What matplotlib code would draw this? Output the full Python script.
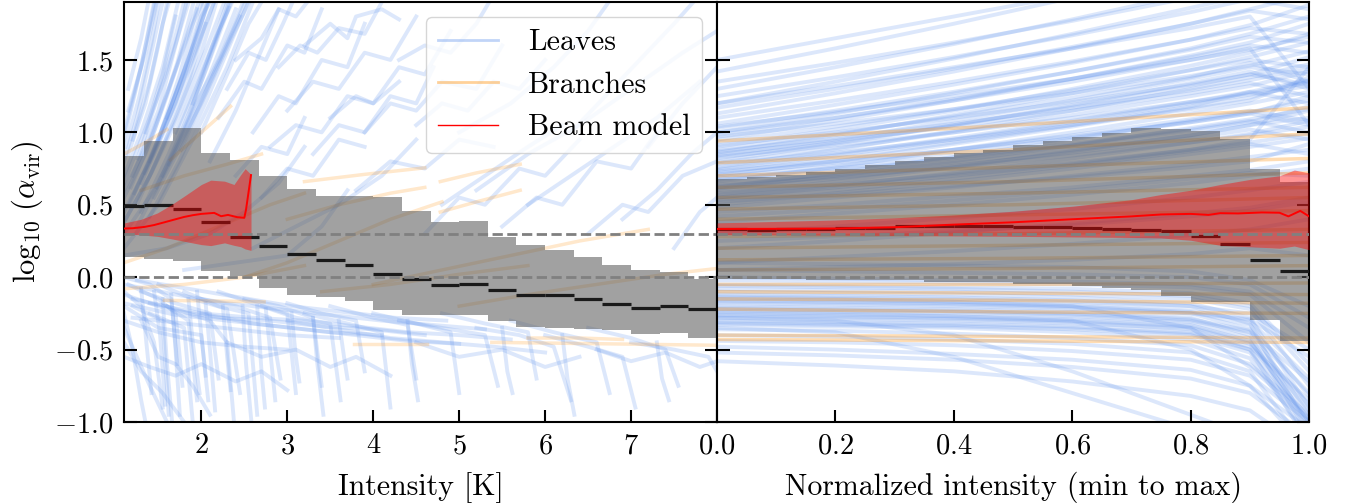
import matplotlib
matplotlib.use("Agg")
import matplotlib.pyplot as plt
from matplotlib.lines import Line2D

plt.rcParams.update({
    "font.family": "serif",
    "font.serif": ["cmr10"],
    "mathtext.fontset": "cm",
    "axes.formatter.use_mathtext": True,
    "axes.unicode_minus": True,
    "font.size": 20,
})

# ---- binned statistics, left panel (intensity in K) ----
edges_left = [1.0, 1.3333, 1.6667, 2.0, 2.3333, 2.6667, 3.0, 3.3333, 3.6667, 4.0, 4.3333,
              4.6667, 5.0, 5.3333, 5.6667, 6.0, 6.3333, 6.6667, 7.0, 7.3333, 7.6667, 8.0]
top_left = [0.84, 0.94, 1.03, 0.86, 0.81, 0.70, 0.61, 0.56, 0.56, 0.555, 0.46,
            0.38, 0.385, 0.28, 0.225, 0.19, 0.137, 0.087, 0.047, 0.038, -0.013]
med_left = [0.49, 0.50, 0.47, 0.38, 0.28, 0.215, 0.16, 0.12, 0.085, 0.025, -0.015,
            -0.054, -0.047, -0.089, -0.123, -0.123, -0.151, -0.186, -0.213, -0.20, -0.22]
bot_left = [0.14, 0.126, 0.109, 0.04, 0.006, -0.075, -0.126, -0.137, -0.167, -0.23, -0.26,
            -0.26, -0.264, -0.30, -0.345, -0.352, -0.359, -0.366, -0.393, -0.382, -0.417]

# ---- binned statistics, right panel (normalized intensity) ----
edges_right = [0.0, 0.05, 0.1, 0.15, 0.2, 0.25, 0.3, 0.35, 0.4, 0.45, 0.5,
               0.55, 0.6, 0.65, 0.7, 0.75, 0.8, 0.85, 0.9, 0.95, 1.0]
top_right = [0.675, 0.69, 0.709, 0.725, 0.75, 0.778, 0.799, 0.827, 0.855, 0.875,
             0.91, 0.938, 0.967, 0.998, 1.028, 1.021, 1.007, 0.952, 0.75, 0.66]
med_right = [0.336, 0.327, 0.336, 0.336, 0.343, 0.343, 0.352, 0.356, 0.356, 0.356,
             0.347, 0.347, 0.34, 0.333, 0.324, 0.32, 0.282, 0.23, 0.119, 0.043]
bot_right = [-0.013, -0.013, -0.013, -0.02, -0.02, -0.02, -0.02, -0.036, -0.036, -0.036,
             -0.045, -0.045, -0.063, -0.075, -0.086, -0.133, -0.174, -0.174, -0.294, -0.444]

# ---- beam model ----
beam_x_left = [1.105, 1.2, 1.337, 1.45, 1.57, 1.70, 1.80, 1.90, 2.00, 2.15, 2.23, 2.31, 2.42, 2.50, 2.52, 2.578]
beam_y_left = [0.336, 0.338, 0.347, 0.36, 0.379, 0.40, 0.416, 0.428, 0.437, 0.444, 0.421, 0.43, 0.414, 0.41, 0.467, 0.705]
band_x_left = [1.105, 1.3, 1.49, 1.65, 1.80, 2.0, 2.11, 2.27, 2.38, 2.46, 2.51, 2.578]
band_hi_left = [0.375, 0.40, 0.444, 0.50, 0.559, 0.64, 0.67, 0.663, 0.64, 0.709, 0.749, 0.709]
band_lo_left = [0.301, 0.292, 0.282, 0.265, 0.248, 0.225, 0.218, 0.237, 0.22, 0.21, 0.195, 0.185]

beam_x_right = [0.0, 0.1, 0.2, 0.3, 0.4, 0.5, 0.6, 0.7, 0.75, 0.8, 0.83, 0.85, 0.88, 0.92, 0.95, 0.965, 0.985, 1.0]
beam_y_right = [0.333, 0.334, 0.336, 0.345, 0.363, 0.379, 0.40, 0.42, 0.433, 0.437, 0.43, 0.442, 0.44, 0.447, 0.445, 0.42, 0.458, 0.42]
band_x_right = [0.0, 0.1, 0.2, 0.3, 0.4, 0.5, 0.6, 0.7, 0.75, 0.8, 0.85, 0.9, 0.95, 0.975, 1.0]
band_hi_right = [0.375, 0.385, 0.395, 0.41, 0.43, 0.455, 0.49, 0.535, 0.571, 0.60, 0.64, 0.675, 0.70, 0.74, 0.72]
band_lo_right = [0.294, 0.292, 0.29, 0.288, 0.285, 0.282, 0.278, 0.274, 0.271, 0.255, 0.22, 0.21, 0.20, 0.215, 0.19]

# ---- leaves, left panel: (intensity, log alpha) polylines ----
leaves_left_rise = [
    [(1.10, 0.55), (1.35, 0.85), (1.60, 1.25), (1.85, 1.70), (2.00, 1.95)],
    [(1.10, 0.70), (1.30, 1.00), (1.55, 1.45), (1.75, 1.95)],
    [(1.12, 0.40), (1.40, 0.70), (1.70, 1.10), (2.00, 1.55), (2.20, 1.95)],
    [(1.15, 0.85), (1.35, 1.20), (1.50, 1.60), (1.62, 1.95)],
    [(1.10, 0.30), (1.45, 0.60), (1.80, 1.00), (2.10, 1.40), (2.40, 1.85)],
    [(1.20, 0.95), (1.40, 1.35), (1.55, 1.75), (1.65, 1.95)],
    [(1.25, 0.50), (1.55, 0.90), (1.85, 1.35), (2.05, 1.75)],
    [(1.10, 1.00), (1.30, 1.45), (1.45, 1.90)],
    [(1.30, 0.65), (1.60, 1.05), (1.90, 1.50), (2.15, 1.90)],
    [(1.15, 1.15), (1.35, 1.55), (1.50, 1.95)],
    [(1.40, 0.80), (1.70, 1.20), (1.95, 1.65), (2.10, 1.95)],
    [(1.10, 0.20), (1.50, 0.50), (1.90, 0.95), (2.30, 1.45), (2.60, 1.90)],
    [(1.50, 0.95), (1.75, 1.40), (1.95, 1.85)],
    [(1.20, 0.70), (1.50, 1.15), (1.70, 1.60), (1.85, 1.95)],
    [(1.60, 1.10), (1.85, 1.50), (2.00, 1.80), (2.15, 1.95)],
    [(1.10, 0.60), (1.40, 0.95), (1.65, 1.35), (1.90, 1.75), (2.05, 1.95)],
    [(1.35, 1.00), (1.55, 1.40), (1.70, 1.80)],
    [(1.70, 1.00), (1.95, 1.35), (2.20, 1.70), (2.40, 1.95)],
    [(1.10, 0.80), (1.25, 1.10), (1.40, 1.50), (1.55, 1.90)],
    [(1.25, 0.35), (1.60, 0.75), (2.00, 1.20), (2.35, 1.65), (2.60, 1.95)],
    [(1.45, 0.55), (1.80, 0.95), (2.10, 1.35), (2.45, 1.80)],
    [(1.90, 1.20), (2.10, 1.55), (2.30, 1.90)],
    [(1.15, 1.30), (1.30, 1.65), (1.40, 1.95)],
    [(1.55, 0.70), (1.85, 1.10), (2.15, 1.60), (2.35, 1.95)],
    [(2.00, 1.00), (2.30, 1.40), (2.55, 1.75), (2.75, 1.95)],
    [(1.12, 0.90), (1.28, 1.25), (1.42, 1.62), (1.52, 1.95)],
    [(1.30, 0.45), (1.62, 0.85), (1.92, 1.28), (2.22, 1.72), (2.38, 1.95)],
    [(1.18, 0.62), (1.46, 1.02), (1.72, 1.48), (1.92, 1.92)],
    [(1.62, 0.78), (1.92, 1.18), (2.22, 1.52), (2.50, 1.92)],
    [(1.10, 0.45), (1.38, 0.78), (1.66, 1.20), (1.94, 1.66), (2.12, 1.95)],
    [(1.10, 0.95), (1.22, 1.25), (1.36, 1.62), (1.48, 1.95)],
    [(1.22, 0.58), (1.52, 0.98), (1.80, 1.42), (2.02, 1.88)],
    [(1.34, 0.72), (1.64, 1.12), (1.94, 1.58), (2.18, 1.95)],
    [(1.10, 0.38), (1.42, 0.72), (1.74, 1.12), (2.06, 1.58), (2.30, 1.95)],
    [(1.48, 0.62), (1.78, 1.02), (2.06, 1.44), (2.32, 1.86)],
    [(1.26, 0.82), (1.48, 1.22), (1.68, 1.62), (1.82, 1.95)],
    [(1.76, 0.88), (2.04, 1.26), (2.30, 1.62), (2.55, 1.95)],
    [(1.10, 0.65), (1.32, 0.98), (1.58, 1.38), (1.80, 1.80), (1.88, 1.95)],
    [(1.40, 0.42), (1.74, 0.80), (2.06, 1.22), (2.40, 1.70), (2.58, 1.95)],
    [(1.16, 0.50), (1.44, 0.86), (1.72, 1.30), (1.98, 1.72), (2.10, 1.95)],
    [(2.10, 0.80), (2.40, 1.15), (2.65, 1.50), (2.90, 1.85)],
    [(1.10, 0.15), (1.60, 0.20), (2.10, 0.30), (2.50, 0.45), (2.90, 0.65), (3.20, 0.90)],
    [(2.60, 0.20), (3.10, 0.35), (3.60, 0.50), (4.10, 0.70), (4.50, 0.95)],
    [(1.80, 0.05), (2.40, 0.10), (3.00, 0.15), (3.40, 0.35), (3.70, 0.60)],
    [(2.70, 0.55), (3.00, 0.75), (3.30, 0.70), (3.60, 0.95), (3.90, 0.90)],
    [(2.40, 0.70), (2.70, 0.90), (3.00, 0.85), (3.20, 1.10)],
]
leaves_left_upper = [
    [(2.2, 1.10), (2.5, 1.35), (2.7, 1.30), (3.0, 1.60), (3.2, 1.55), (3.4, 1.85)],
    [(2.6, 1.00), (2.9, 1.25), (3.1, 1.20), (3.4, 1.50), (3.7, 1.45), (3.9, 1.75)],
    [(3.0, 1.15), (3.3, 1.35), (3.6, 1.30), (3.9, 1.55), (4.2, 1.50), (4.5, 1.80)],
    [(2.4, 1.50), (2.7, 1.65), (2.9, 1.85), (3.1, 1.80), (3.3, 1.95)],
    [(3.5, 1.10), (3.8, 1.25), (4.0, 1.20), (4.3, 1.45), (4.6, 1.40), (4.9, 1.70)],
    [(3.9, 1.00), (4.2, 1.20), (4.5, 1.15), (4.8, 1.35), (5.2, 1.30), (5.5, 1.60)],
    [(3.2, 1.60), (3.5, 1.75), (3.7, 1.65), (3.8, 1.80), (4.1, 1.85), (4.3, 1.78)],
    [(4.5, 1.05), (4.8, 1.20), (5.1, 1.15), (5.4, 1.35), (5.7, 1.30), (6.0, 1.50)],
    [(2.8, 0.90), (3.1, 1.05), (3.4, 1.00), (3.7, 1.25), (4.0, 1.20), (4.3, 1.35)],
    [(4.3, 1.50), (4.6, 1.60), (4.9, 1.55), (5.2, 1.75), (5.4, 1.95)],
    [(2.3, 1.30), (2.55, 1.55), (2.75, 1.50), (2.95, 1.75), (3.1, 1.95)],
    [(2.9, 1.45), (3.15, 1.60), (3.35, 1.55), (3.6, 1.72), (3.9, 1.68), (4.1, 1.90)],
    [(3.3, 0.85), (3.6, 1.05), (3.9, 1.00), (4.2, 1.25), (4.5, 1.20), (4.7, 1.45)],
    [(5.2, 0.60), (5.8, 0.85), (6.4, 1.05), (7.0, 1.30), (7.6, 1.55), (8.0, 1.70)],
    [(5.8, 0.50), (6.3, 0.70), (6.8, 0.90), (7.3, 1.10), (7.8, 1.35)],
    [(6.3, 1.00), (6.7, 1.25), (7.1, 1.50), (7.5, 1.75), (7.8, 1.95)],
    [(6.9, 0.40), (7.3, 0.60), (7.7, 0.85), (8.0, 1.00)],
    [(5.0, 1.00), (5.6, 1.20), (6.1, 1.45), (6.5, 1.70), (6.8, 1.95)],
    [(7.2, 0.90), (7.6, 1.20), (8.0, 1.45)],
    [(4.8, 0.50), (5.3, 0.70), (5.8, 0.90), (6.2, 1.05)],
    [(7.5, 0.20), (7.8, 0.45), (8.0, 0.55)],
    [(4.6, 0.30), (5.0, 0.55), (5.3, 0.50), (5.7, 0.75), (6.0, 0.70), (6.4, 0.95)],
    [(5.5, 0.35), (5.9, 0.55), (6.2, 0.50), (6.6, 0.80), (7.0, 0.75), (7.3, 1.00)],
    [(6.5, 0.30), (6.9, 0.50), (7.2, 0.45), (7.6, 0.70), (8.0, 0.80)],
    [(3.8, 0.60), (4.2, 0.80), (4.6, 0.75), (5.0, 0.95), (5.4, 0.90)],
]
leaves_left_drop = [
    [(1.10, -0.10), (1.30, -0.20), (1.45, -0.45), (1.55, -0.90)],
    [(1.10, -0.25), (1.20, -0.50), (1.30, -0.85), (1.35, -1.00)],
    [(1.15, -0.05), (1.50, -0.15), (1.70, -0.25), (1.78, -0.75)],
    [(1.20, -0.15), (1.60, -0.20), (1.85, -0.30), (1.95, -0.85)],
    [(1.10, 0.00), (1.40, -0.05), (1.65, -0.15), (1.72, -0.60)],
    [(1.30, -0.10), (1.70, -0.18), (2.10, -0.25), (2.20, -0.70)],
    [(1.10, -0.35), (1.25, -0.55), (1.40, -0.75), (1.60, -1.00)],
    [(1.50, -0.05), (1.90, -0.15), (2.30, -0.22), (2.45, -0.80)],
    [(1.20, -0.20), (1.55, -0.30), (1.62, -0.95)],
    [(1.80, -0.10), (2.20, -0.20), (2.55, -0.25), (2.65, -0.95)],
    [(1.40, -0.25), (1.80, -0.35), (1.90, -1.00)],
    [(2.00, -0.15), (2.40, -0.20), (2.80, -0.28), (2.92, -0.70)],
    [(1.10, -0.20), (1.50, -0.35), (2.00, -0.40), (2.08, -0.85)],
    [(2.20, -0.10), (2.60, -0.18), (3.00, -0.25), (3.10, -0.80)],
    [(1.60, -0.20), (2.10, -0.30), (2.30, -0.45), (2.38, -1.00)],
    [(2.50, -0.15), (2.90, -0.20), (3.30, -0.28), (3.40, -0.75)],
    [(1.10, -0.45), (1.30, -0.65), (1.55, -0.80), (1.80, -1.00)],
    [(2.70, -0.20), (3.10, -0.28), (3.50, -0.32), (3.62, -0.85)],
    [(3.00, -0.18), (3.40, -0.25), (3.80, -0.30), (3.90, -0.65)],
    [(3.20, -0.25), (3.70, -0.32), (4.10, -0.38), (4.20, -0.90)],
    [(3.50, -0.20), (4.00, -0.28), (4.40, -0.33), (4.50, -0.70)],
    [(1.30, -0.30), (1.50, -0.55), (1.70, -0.60), (1.90, -0.75), (2.10, -0.95)],
    [(4.00, -0.25), (4.50, -0.32), (4.90, -0.38), (5.00, -0.80)],
    [(4.30, -0.30), (4.80, -0.35), (5.30, -0.40), (5.45, -0.75)],
    [(4.80, -0.25), (5.30, -0.32), (5.80, -0.38), (5.90, -0.70)],
    [(5.20, -0.35), (5.70, -0.40), (6.10, -0.48), (6.30, -0.85)],
    [(5.60, -0.30), (6.10, -0.38), (6.60, -0.45), (6.75, -0.80)],
    [(6.00, -0.40), (6.50, -0.48), (6.90, -0.55), (7.05, -0.90)],
    [(6.50, -0.35), (7.00, -0.42), (7.40, -0.50), (7.55, -0.75)],
    [(7.00, -0.45), (7.50, -0.50), (7.90, -0.55), (8.00, -0.65)],
    [(1.10, -0.55), (1.40, -0.62), (1.70, -0.68), (2.00, -0.60), (2.40, -0.72), (2.70, -0.65), (3.00, -0.78)],
    [(2.30, -0.45), (2.70, -0.55), (3.10, -0.50), (3.50, -0.62), (3.80, -0.55), (4.20, -0.68)],
    [(4.50, -0.45), (5.00, -0.55), (5.50, -0.50), (6.00, -0.62), (6.40, -0.55)],
    [(6.60, -0.50), (7.00, -0.58), (7.40, -0.52), (7.80, -0.62), (8.00, -0.58)],
    [(1.10, -0.12), (1.60, -0.22), (2.20, -0.28), (2.80, -0.30), (3.40, -0.34), (4.00, -0.36), (4.60, -0.40)],
    [(1.40, -0.18), (2.00, -0.25), (2.60, -0.32), (3.20, -0.36), (3.80, -0.40), (4.40, -0.44), (5.00, -0.46)],
    [(1.20, -0.28), (1.80, -0.32), (2.40, -0.36), (3.00, -0.40), (3.60, -0.42)],
    [(1.10, -0.05), (1.70, -0.12), (2.30, -0.18), (2.90, -0.22), (3.50, -0.26), (4.10, -0.30), (4.70, -0.33), (5.30, -0.36)],
    [(1.10, -0.18), (1.70, -0.26), (2.30, -0.30), (2.90, -0.34), (3.50, -0.38), (4.10, -0.40)],
    [(1.25, -0.02), (1.85, -0.08), (2.45, -0.14), (3.05, -0.20), (3.65, -0.24), (4.25, -0.28), (4.85, -0.30)],
    [(2.00, -0.25), (2.60, -0.28), (3.20, -0.30), (3.80, -0.34), (4.40, -0.38), (5.00, -0.40), (5.60, -0.43)],
    [(1.10, -0.30), (1.50, -0.38), (2.00, -0.45), (2.50, -0.48), (3.00, -0.50)],
    [(3.00, -0.30), (3.60, -0.36), (4.20, -0.42), (4.80, -0.45), (5.40, -0.48), (6.00, -0.52)],
    [(1.45, -0.10), (1.52, -0.40), (1.58, -0.88)],
    [(1.65, -0.12), (1.70, -0.50), (1.75, -0.95)],
    [(1.85, -0.15), (1.90, -0.45), (1.98, -0.80)],
    [(2.05, -0.18), (2.10, -0.50), (2.16, -0.92)],
    [(2.25, -0.20), (2.30, -0.55), (2.34, -0.78)],
    [(2.48, -0.20), (2.52, -0.60), (2.58, -0.98)],
    [(2.75, -0.22), (2.80, -0.50), (2.86, -0.85)],
    [(3.05, -0.25), (3.10, -0.55), (3.14, -0.72)],
    [(3.30, -0.28), (3.35, -0.60), (3.42, -0.95)],
    [(3.60, -0.30), (3.66, -0.55), (3.70, -0.70)],
    [(1.30, -0.08), (1.36, -0.45), (1.42, -0.80)],
    [(1.55, -0.15), (1.60, -0.60), (1.66, -1.00)],
    [(1.95, -0.10), (2.00, -0.40), (2.05, -0.68)],
    [(2.65, -0.20), (2.70, -0.65), (2.74, -0.90)],
    [(4.40, -0.30), (4.45, -0.60), (4.52, -0.85)],
    [(5.50, -0.35), (5.56, -0.65), (5.62, -0.80)],
    [(6.20, -0.40), (6.26, -0.70), (6.34, -0.95)],
    [(7.30, -0.45), (7.36, -0.70), (7.44, -0.85)],
]

# ---- branches, left panel ----
branches_left = [
    [(1.64, 0.81), (2.00, 1.00), (2.34, 1.18)],
    [(1.10, 0.85), (1.35, 0.93), (1.60, 1.02)],
    [(3.20, 0.66), (3.90, 0.71), (4.60, 0.755)],
    [(4.78, 0.66), (5.20, 0.72), (5.71, 0.78)],
    [(4.78, 0.45), (5.20, 0.52), (5.71, 0.60)],
    [(1.10, 0.10), (1.60, 0.20), (2.20, 0.35), (2.80, 0.50), (3.20, 0.58)],
    [(1.30, 0.60), (1.80, 0.70), (2.30, 0.78), (2.70, 0.85)],
    [(2.50, 0.00), (3.00, 0.10), (3.60, 0.25), (4.20, 0.40), (4.80, 0.52)],
    [(3.00, 0.40), (3.60, 0.50), (4.20, 0.58), (4.60, 0.62)],
    [(4.00, -0.05), (4.80, 0.05), (5.60, 0.15), (6.40, 0.25), (7.20, 0.33)],
    [(5.00, -0.20), (5.80, -0.12), (6.60, -0.05), (7.40, 0.02), (8.00, 0.06)],
    [(1.10, -0.08), (1.80, -0.05), (2.50, 0.00), (3.20, 0.08)],
    [(3.40, -0.10), (4.20, -0.05), (5.00, 0.02), (5.80, 0.08)],
    [(1.57, -0.16), (2.20, -0.165), (2.73, -0.17)],
    [(3.78, -0.46), (4.20, -0.46), (4.62, -0.46)],
    [(5.38, -0.45), (6.70, -0.46), (8.00, -0.47)],
    [(5.80, -0.42), (6.40, -0.42), (6.90, -0.43)],
]

# ---- leaves, right panel: values at fixed normalized intensities ----
right_x = [0.0, 0.2, 0.4, 0.6, 0.8, 0.9, 1.0]
leaves_right_upper = [
    [0.45, 0.50, 0.56, 0.62, 0.70, 0.74, 0.80],
    [0.48, 0.55, 0.62, 0.70, 0.78, 0.83, 0.88],
    [0.50, 0.58, 0.66, 0.75, 0.85, 0.90, 0.96],
    [0.52, 0.57, 0.63, 0.69, 0.76, 0.80, 0.92],
    [0.53, 0.60, 0.68, 0.77, 0.87, 0.92, 0.85],
    [0.55, 0.63, 0.72, 0.82, 0.93, 0.98, 1.04],
    [0.57, 0.66, 0.76, 0.87, 0.98, 1.05, 1.10],
    [0.58, 0.64, 0.71, 0.79, 0.88, 0.93, 0.99],
    [0.60, 0.68, 0.77, 0.86, 0.96, 1.02, 0.95],
    [0.61, 0.70, 0.80, 0.91, 1.03, 1.09, 1.16],
    [0.62, 0.72, 0.83, 0.95, 1.08, 1.14, 1.22],
    [0.63, 0.69, 0.76, 0.84, 0.93, 0.99, 1.08],
    [0.64, 0.71, 0.79, 0.88, 0.98, 1.05, 1.15],
    [0.66, 0.76, 0.88, 1.00, 1.13, 1.20, 1.28],
    [0.67, 0.74, 0.82, 0.91, 1.01, 1.07, 1.18],
    [0.68, 0.75, 0.83, 0.92, 1.02, 1.08, 1.00],
    [0.69, 0.77, 0.86, 0.96, 1.07, 1.13, 1.05],
    [0.70, 0.80, 0.92, 1.04, 1.17, 1.24, 1.35],
    [0.71, 0.79, 0.88, 0.98, 1.09, 1.15, 1.08],
    [0.72, 0.82, 0.93, 1.05, 1.18, 1.28, 1.20],
    [0.73, 0.80, 0.88, 0.97, 1.07, 1.13, 1.25],
    [0.74, 0.84, 0.95, 1.07, 1.20, 1.26, 1.32],
    [0.75, 0.85, 0.96, 1.08, 1.21, 1.28, 1.36],
    [0.76, 0.88, 1.01, 1.15, 1.30, 1.38, 1.47],
    [0.78, 0.86, 0.95, 1.05, 1.16, 1.22, 1.38],
    [0.79, 0.89, 1.00, 1.12, 1.25, 1.32, 1.42],
    [0.80, 0.92, 1.05, 1.19, 1.34, 1.42, 1.30],
    [0.82, 0.93, 1.05, 1.18, 1.32, 1.40, 1.52],
    [0.83, 0.91, 1.00, 1.10, 1.21, 1.27, 1.35],
    [0.84, 0.95, 1.08, 1.22, 1.37, 1.45, 1.40],
    [0.85, 0.94, 1.04, 1.15, 1.27, 1.34, 1.25],
    [0.86, 0.98, 1.12, 1.27, 1.43, 1.52, 1.62],
    [0.87, 0.96, 1.06, 1.17, 1.29, 1.36, 1.44],
    [0.88, 0.99, 1.11, 1.24, 1.38, 1.48, 1.35],
    [0.90, 1.02, 1.15, 1.30, 1.46, 1.55, 1.68],
    [0.91, 1.00, 1.10, 1.21, 1.33, 1.40, 1.33],
    [0.93, 1.04, 1.16, 1.29, 1.43, 1.50, 1.45],
    [0.95, 1.08, 1.22, 1.37, 1.53, 1.62, 1.75],
    [0.97, 1.06, 1.16, 1.27, 1.39, 1.46, 1.56],
    [0.98, 1.10, 1.23, 1.37, 1.52, 1.60, 1.55],
    [1.00, 1.13, 1.27, 1.42, 1.58, 1.68, 1.80],
    [1.03, 1.15, 1.28, 1.42, 1.57, 1.66, 1.62],
    [1.04, 1.14, 1.25, 1.37, 1.50, 1.57, 1.66],
    [1.06, 1.19, 1.33, 1.48, 1.64, 1.74, 1.88],
    [1.10, 1.22, 1.35, 1.49, 1.64, 1.72, 1.68],
    [1.13, 1.27, 1.42, 1.58, 1.75, 1.85, 1.95],
    [1.17, 1.30, 1.44, 1.59, 1.75, 1.84, 1.78],
    [1.20, 1.35, 1.51, 1.68, 1.86, 1.95, 2.00],
    [1.25, 1.38, 1.52, 1.67, 1.83, 1.92, 1.85],
    [1.30, 1.45, 1.61, 1.78, 1.96, 2.00, 2.00],
    [1.35, 1.48, 1.62, 1.77, 1.93, 2.00, 1.90],
    [1.42, 1.58, 1.75, 1.93, 2.05, 2.05, 2.05],
    [1.50, 1.65, 1.80, 1.95, 2.05, 2.05, 2.05],
    [1.20, 1.32, 1.45, 1.58, 1.72, 1.80, 1.30],
    [1.00, 1.10, 1.22, 1.35, 1.50, 1.58, 1.05],
    [0.55, 0.62, 0.70, 0.78, 0.88, 0.95, 1.45],
    [0.10, 0.14, 0.18, 0.23, 0.29, 0.33, 0.40],
    [0.20, 0.25, 0.31, 0.37, 0.44, 0.48, 0.55],
    [0.30, 0.35, 0.41, 0.47, 0.55, 0.60, 0.66],
    [0.38, 0.44, 0.50, 0.57, 0.65, 0.70, 0.75],
    [0.42, 0.47, 0.53, 0.60, 0.68, 0.72, 0.70],
    [0.25, 0.28, 0.32, 0.36, 0.42, 0.46, 0.52],
    [0.05, 0.07, 0.09, 0.12, 0.16, 0.20, 0.15],
]
leaves_right_lower = [
    [-0.02, -0.03, -0.04, -0.05, -0.07, -0.12, -0.45],
    [-0.05, -0.06, -0.07, -0.08, -0.11, -0.18, -0.60],
    [-0.06, -0.07, -0.08, -0.10, -0.13, -0.20, -0.65],
    [-0.08, -0.09, -0.10, -0.12, -0.15, -0.22, -0.75],
    [-0.10, -0.11, -0.12, -0.14, -0.18, -0.28, -0.90],
    [-0.12, -0.13, -0.14, -0.16, -0.20, -0.32, -1.05],
    [-0.15, -0.16, -0.17, -0.19, -0.23, -0.30, -0.70],
    [-0.16, -0.17, -0.18, -0.20, -0.24, -0.33, -0.82],
    [-0.17, -0.18, -0.19, -0.21, -0.25, -0.36, -0.95],
    [-0.20, -0.21, -0.22, -0.24, -0.28, -0.40, -1.10],
    [-0.21, -0.22, -0.23, -0.25, -0.29, -0.37, -0.72],
    [-0.22, -0.23, -0.24, -0.26, -0.30, -0.38, -0.80],
    [-0.25, -0.26, -0.27, -0.29, -0.33, -0.44, -1.00],
    [-0.26, -0.27, -0.28, -0.30, -0.34, -0.45, -0.92],
    [-0.27, -0.28, -0.29, -0.31, -0.36, -0.50, -1.15],
    [-0.30, -0.31, -0.32, -0.34, -0.38, -0.48, -0.85],
    [-0.31, -0.32, -0.33, -0.35, -0.39, -0.50, -1.00],
    [-0.33, -0.34, -0.35, -0.38, -0.43, -0.56, -1.10],
    [-0.36, -0.37, -0.39, -0.42, -0.47, -0.60, -0.95],
    [-0.40, -0.41, -0.43, -0.46, -0.52, -0.65, -1.20],
    [-0.44, -0.45, -0.47, -0.51, -0.57, -0.68, -1.00],
    [-0.48, -0.50, -0.53, -0.57, -0.64, -0.75, -1.20],
    [-0.52, -0.54, -0.57, -0.62, -0.70, -0.80, -1.10],
    [-0.58, -0.61, -0.65, -0.72, -0.82, -0.92, -1.20],
    [-0.18, -0.19, -0.20, -0.22, -0.25, -0.29, -0.55],
    [-0.13, -0.14, -0.15, -0.17, -0.20, -0.25, -0.50],
    [-0.23, -0.24, -0.25, -0.27, -0.31, -0.42, -0.88],
    [-0.28, -0.29, -0.30, -0.32, -0.35, -0.46, -0.98],
    [-0.32, -0.33, -0.34, -0.36, -0.40, -0.52, -1.05],
    [-0.28, -0.30, -0.40, -0.65, -0.95, -1.10, -1.20],
    [-0.35, -0.38, -0.55, -0.80, -1.05, -1.10, -1.20],
    [-0.24, -0.25, -0.27, -0.30, -0.50, -0.75, -1.05],
    [-0.14, -0.15, -0.17, -0.20, -0.35, -0.62, -0.98],
    [0.00, -0.01, -0.02, -0.03, -0.05, -0.10, -0.35],
    [0.05, 0.04, 0.03, 0.02, 0.00, -0.05, -0.28],
    [0.10, 0.09, 0.08, 0.07, 0.04, -0.02, -0.20],
]

# ---- branches, right panel ----
branch_x_right = [0.0, 0.5, 1.0]
branches_right = [
    [0.94, 1.05, 1.17], [0.79, 0.88, 0.99], [0.70, 0.76, 0.82], [0.62, 0.66, 0.72],
    [0.55, 0.58, 0.62], [0.47, 0.50, 0.55], [0.40, 0.43, 0.46], [0.28, 0.30, 0.33],
    [0.20, 0.22, 0.24], [0.12, 0.13, 0.15], [0.05, 0.06, 0.08], [-0.05, -0.05, -0.04],
    [-0.10, -0.11, -0.12], [-0.15, -0.16, -0.18], [-0.22, -0.24, -0.25],
    [-0.40, -0.41, -0.42], [-0.43, -0.44, -0.45],
]

leaf_color = "cornflowerblue"
branch_color = "darkorange"

fig = plt.figure(figsize=(13.58, 5.03), dpi=100)
ax1 = fig.add_axes([0.0913, 0.161, 0.4367, 0.835])
ax2 = fig.add_axes([0.528, 0.161, 0.436, 0.835])

# leaves and branches
for line in leaves_left_rise + leaves_left_upper + leaves_left_drop:
    xs = [p[0] for p in line]
    ys = [p[1] for p in line]
    ax1.plot(xs, ys, color=leaf_color, alpha=0.22, lw=2.8, zorder=1)
for line in branches_left:
    xs = [p[0] for p in line]
    ys = [p[1] for p in line]
    ax1.plot(xs, ys, color=branch_color, alpha=0.2, lw=2.5, zorder=1.5)

for ys in leaves_right_upper + leaves_right_lower:
    ax2.plot(right_x, ys, color=leaf_color, alpha=0.22, lw=2.8, zorder=1)
for ys in branches_right:
    ax2.plot(branch_x_right, ys, color=branch_color, alpha=0.3, lw=2.5, zorder=1.5)

# binned spread boxes and medians
for ax, edges, top, med, bot in [
    (ax1, edges_left, top_left, med_left, bot_left),
    (ax2, edges_right, top_right, med_right, bot_right),
]:
    lo = edges[:-1]
    widths = [b - a for a, b in zip(edges[:-1], edges[1:])]
    heights = [t - b for t, b in zip(top, bot)]
    ax.bar(lo, heights, width=widths, bottom=bot, align="edge", color="#555555",
           alpha=0.55, linewidth=0, zorder=2)
    ax.hlines(med, lo, edges[1:], color="#1a1a1a", lw=2.3, zorder=3)

# beam model
ax1.fill_between(band_x_left, band_lo_left, band_hi_left, color="red", alpha=0.42,
                 linewidth=0, zorder=4)
ax1.plot(beam_x_left, beam_y_left, color="red", lw=1.4, zorder=5)
ax2.fill_between(band_x_right, band_lo_right, band_hi_right, color="red", alpha=0.42,
                 linewidth=0, zorder=4)
ax2.plot(beam_x_right, beam_y_right, color="red", lw=1.4, zorder=5)

for ax in (ax1, ax2):
    ax.axhline(0.0, color="gray", ls="--", lw=2, zorder=4.5)
    ax.axhline(0.301, color="gray", ls="--", lw=2, zorder=4.5)
    ax.set_ylim(-1.0, 1.9)
    ax.set_yticks([-1.0, -0.5, 0.0, 0.5, 1.0, 1.5])
    for s in ax.spines.values():
        s.set_linewidth(1.5)
    ax.tick_params(direction="in", length=9, width=1.5, labelsize=20.5,
                   left=True, right=True, bottom=True, top=False, pad=8)

ax1.set_xlim(1.1, 8.0)
ax1.set_xticks([2, 3, 4, 5, 6, 7])
ax1.set_ylabel(r"$\log_{10}\,(\alpha_{\rm vir})$", fontsize=22, labelpad=6)
ax1.set_xlabel("Intensity [K]", fontsize=21.5, labelpad=9)

ax2.set_xlim(0.0, 1.0)
ax2.set_xticks([0.0, 0.2, 0.4, 0.6, 0.8, 1.0])
ax2.tick_params(labelleft=False)
ax2.set_xlabel("Normalized intensity (min to max)", fontsize=21.5, labelpad=9)

handles = [
    Line2D([], [], color=leaf_color, alpha=0.4, lw=2),
    Line2D([], [], color=branch_color, alpha=0.4, lw=2),
    Line2D([], [], color="red", lw=1),
]
leg = ax1.legend(handles, ["Leaves", "Branches", "Beam model"], loc="upper right",
                 fontsize=21.5, framealpha=0.8, borderaxespad=0.5, handletextpad=1.0)
leg.set_zorder(10)

fig.savefig("out.png", dpi=100)
